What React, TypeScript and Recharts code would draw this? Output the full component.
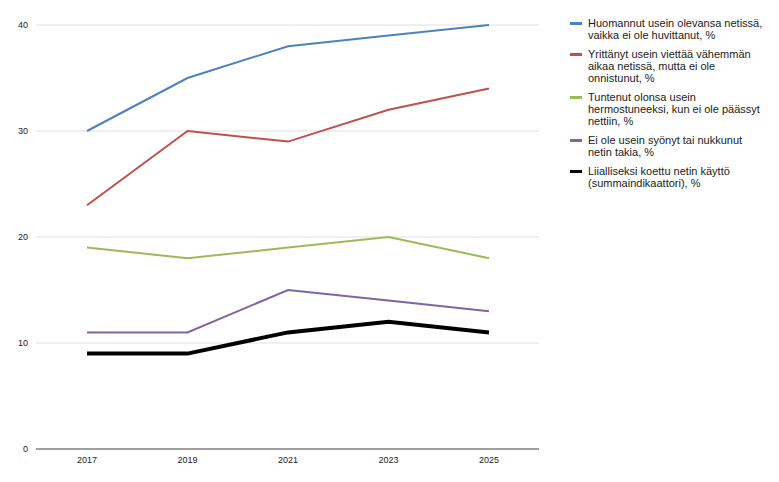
import { LineChart, Line, XAxis, YAxis, CartesianGrid } from 'recharts';

const years = ['2017', '2019', '2021', '2023', '2025'];
const huomannut = [30, 35, 38, 39, 40];
const yrittanyt = [23, 30, 29, 32, 34];
const tuntenut = [19, 18, 19, 20, 18];
const eiOle = [11, 11, 15, 14, 13];
const liiallinen = [9, 9, 11, 12, 11];
const yTicks = [0, 10, 20, 30, 40];

const series = [
  { key: 'a', name: 'Huomannut usein olevansa netissä, vaikka ei ole huvittanut, %', values: huomannut, color: '#4F81BD', width: 2 },
  { key: 'b', name: 'Yrittänyt usein viettää vähemmän aikaa netissä, mutta ei ole onnistunut, %', values: yrittanyt, color: '#C0504D', width: 2 },
  { key: 'c', name: 'Tuntenut olonsa usein hermostuneeksi, kun ei ole päässyt nettiin, %', values: tuntenut, color: '#9BBB59', width: 2 },
  { key: 'd', name: 'Ei ole usein syönyt tai nukkunut netin takia, %', values: eiOle, color: '#8064A2', width: 2 },
  { key: 'e', name: 'Liialliseksi koettu netin käyttö (summaindikaattori), %', values: liiallinen, color: '#000000', width: 4 },
];

const data = years.map((year, i) => {
  const row: Record<string, string | number> = { year };
  series.forEach((s) => { row[s.key] = s.values[i]; });
  return row;
});

const font = 'Arial, "Liberation Sans", sans-serif';

function ChartLegend() {
  return (
    <div style={{ position: 'absolute', left: 570, top: 17, width: 200, fontFamily: font, fontSize: 11, color: '#222', lineHeight: '12px' }}>
      {series.map((s) => (
        <div key={s.key} style={{ display: 'flex', marginBottom: 7 }}>
          <span style={{ flex: '0 0 12px', height: 3, background: s.color, marginTop: 5, marginRight: 6 }} />
          <span style={{ width: 180 }}>{s.name}</span>
        </div>
      ))}
    </div>
  );
}

export default function App() {
  return (
    <div style={{ position: 'absolute', left: 0, top: 0, width: 779, height: 482, background: '#fff' }}>
      <LineChart width={779} height={482} data={data} margin={{ top: 25, right: 240, bottom: 8, left: 0 }}>
        <CartesianGrid vertical={false} stroke="#e0e0e0" />
        <XAxis
          dataKey="year"
          padding={{ left: 51, right: 50 }}
          tickLine={false}
          axisLine={{ stroke: '#a0a0a0', strokeWidth: 2 }}
          tick={{ fontSize: 9, fill: '#222', fontFamily: font }}
          height={25}
        />
        <YAxis
          domain={[0, 40]}
          ticks={yTicks}
          width={36}
          axisLine={false}
          tickLine={false}
          tick={{ fontSize: 9, fill: '#222', fontFamily: font }}
        />
        {series.map((s) => (
          <Line
            key={s.key}
            dataKey={s.key}
            name={s.name}
            stroke={s.color}
            strokeWidth={s.width}
            dot={false}
            isAnimationActive={false}
          />
        ))}
      </LineChart>
      <ChartLegend />
    </div>
  );
}
